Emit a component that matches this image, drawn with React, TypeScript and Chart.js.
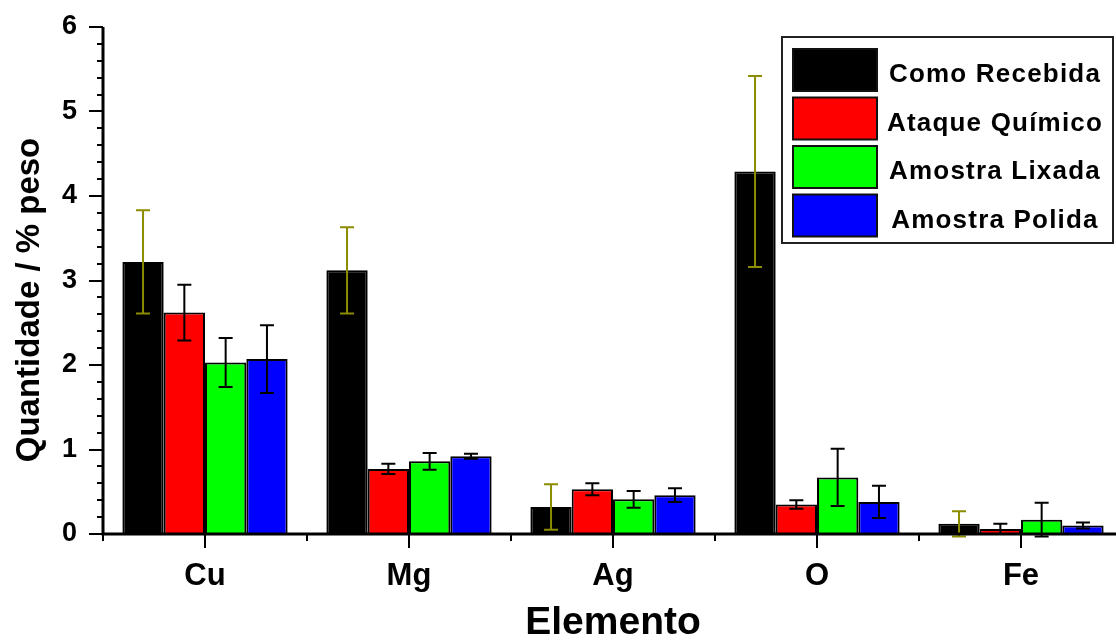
import React, { useEffect, useRef } from "react";
import { Chart, registerables } from "chart.js";

Chart.register(...registerables);

// Element composition (% weight) per surface condition
const elementos = ["Cu", "Mg", "Ag", "O", "Fe"];

const comoRecebida = [3.22, 3.12, 0.32, 4.29, 0.12];
const comoRecebidaErro = [0.61, 0.51, 0.27, 1.13, 0.15];

const ataqueQuimico = [2.62, 0.77, 0.53, 0.35, 0.06];
const ataqueQuimicoErro = [0.33, 0.06, 0.07, 0.05, 0.06];

const amostraLixada = [2.03, 0.86, 0.41, 0.67, 0.17];
const amostraLixadaErro = [0.29, 0.10, 0.10, 0.34, 0.20];

const amostraPolida = [2.07, 0.92, 0.46, 0.38, 0.10];
const amostraPolidaErro = [0.40, 0.03, 0.08, 0.19, 0.035];

const yTicks = [0, 1, 2, 3, 4, 5, 6];
const yTitle = "Quantidade / % peso";

const FONT = "Arial, 'Liberation Sans', sans-serif";

const series = [
  { label: "Como Recebida", data: comoRecebida, err: comoRecebidaErro, color: "#000000", errColor: "#8c8c00" },
  { label: "Ataque Químico", data: ataqueQuimico, err: ataqueQuimicoErro, color: "#ff0000", errColor: "#000000" },
  { label: "Amostra Lixada", data: amostraLixada, err: amostraLixadaErro, color: "#00ff00", errColor: "#000000" },
  { label: "Amostra Polida", data: amostraPolida, err: amostraPolidaErro, color: "#0000ff", errColor: "#000000" },
];

// Error bars drawn from each bar's value +/- its deviation
const errorBars = {
  id: "errorBars",
  afterDatasetsDraw(chart: any) {
    const { ctx } = chart;
    const yScale = chart.scales.y;
    chart.data.datasets.forEach((ds: any, i: number) => {
      const meta = chart.getDatasetMeta(i);
      meta.data.forEach((bar: any, j: number) => {
        const v = ds.data[j];
        const e = ds.errors[j];
        const x = bar.x;
        const yTop = yScale.getPixelForValue(v + e);
        const yBot = yScale.getPixelForValue(v - e);
        ctx.save();
        ctx.strokeStyle = ds.errColor;
        ctx.lineWidth = 2;
        ctx.beginPath();
        ctx.moveTo(x, yTop);
        ctx.lineTo(x, yBot);
        ctx.moveTo(x - 7, yTop);
        ctx.lineTo(x + 7, yTop);
        ctx.moveTo(x - 7, yBot);
        ctx.lineTo(x + 7, yBot);
        ctx.stroke();
        ctx.restore();
      });
    });
  },
};

// Axis lines with major/minor tick marks, plus the rotated y title
const axesFrame = {
  id: "axesFrame",
  afterDatasetsDraw(chart: any) {
    const { ctx, chartArea } = chart;
    const { left, right, top, bottom } = chartArea;
    const y = chart.scales.y;
    const x = chart.scales.x;
    ctx.save();
    ctx.strokeStyle = "#000";
    ctx.lineCap = "butt";
    // y ticks: major every 1, minor every 0.2
    ctx.lineWidth = 2;
    ctx.beginPath();
    for (let k = 0; k <= 30; k++) {
      const v = k * 0.2;
      const py = Math.round(y.getPixelForValue(v));
      const major = k % 5 === 0;
      ctx.moveTo(left - (major ? 14 : 6), py);
      ctx.lineTo(left, py);
    }
    // x major ticks at categories, minor at boundaries
    const n = elementos.length;
    const w = (right - left) / n;
    for (let k = 0; k <= n; k++) {
      const px = left + k * w;
      ctx.moveTo(px, bottom);
      ctx.lineTo(px, bottom + 7);
    }
    for (let k = 0; k < n; k++) {
      const px = x.getPixelForValue(k);
      ctx.moveTo(px, bottom);
      ctx.lineTo(px, bottom + 14);
    }
    ctx.stroke();
    // axis lines
    ctx.lineWidth = 3;
    ctx.beginPath();
    ctx.moveTo(left, top);
    ctx.lineTo(left, bottom + 1.5);
    ctx.moveTo(left - 1.5, bottom);
    ctx.lineTo(right + 2, bottom);
    ctx.stroke();

    // y axis title
    ctx.translate(30, 300);
    ctx.rotate(-Math.PI / 2);
    ctx.fillStyle = "#000";
    ctx.font = `bold 33px ${FONT}`;
    ctx.textAlign = "center";
    ctx.textBaseline = "middle";
    ctx.fillText(yTitle, 0, 0);
    ctx.restore();
  },
};

// Boxed legend in the upper right corner
const boxLegend = {
  id: "boxLegend",
  afterDraw(chart: any) {
    const { ctx } = chart;
    const bx = 782;
    const by = 37;
    const bw = 331;
    const bh = 206;
    ctx.save();
    ctx.fillStyle = "#ffffff";
    ctx.fillRect(bx, by, bw, bh);
    ctx.strokeStyle = "#222";
    ctx.lineWidth = 2;
    ctx.strokeRect(bx, by, bw, bh);
    series.forEach((s, i) => {
      const sy = 49 + i * 48.5;
      ctx.fillStyle = s.color;
      ctx.fillRect(793, sy, 84, 42);
      ctx.strokeStyle = "#111";
      ctx.lineWidth = 2;
      ctx.strokeRect(793, sy, 84, 42);
      ctx.fillStyle = "#000";
      ctx.font = `bold 26px ${FONT}`;
      (ctx as any).letterSpacing = "1.2px";
      ctx.textAlign = "center";
      ctx.textBaseline = "middle";
      ctx.fillText(s.label, 995, sy + 26);
    });
    ctx.restore();
  },
};

export default function App() {
  const ref = useRef<HTMLCanvasElement>(null);

  useEffect(() => {
    if (!ref.current) return;
    const chart = new Chart(ref.current, {
      type: "bar",
      data: {
        labels: elementos,
        datasets: series.map((s) => ({
          label: s.label,
          data: s.data,
          errors: s.err,
          errColor: s.errColor,
          backgroundColor: s.color,
          borderColor: "#000",
          borderWidth: 2,
          categoryPercentage: 0.81,
          barPercentage: 1.0,
        })) as any,
      },
      options: {
        responsive: false,
        animation: false,
        layout: { padding: { left: 0, right: 1, top: 27, bottom: 0 } },
        plugins: {
          legend: { display: false },
          tooltip: { enabled: false },
        },
        scales: {
          x: {
            offset: true,
            grid: { display: false, drawTicks: false },
            border: { display: false },
            afterFit: (s: any) => {
              s.height = 109;
            },
            ticks: {
              color: "#000",
              font: { family: FONT, size: 31, weight: "bold" },
              padding: 24,
              maxRotation: 0,
            },
            title: {
              display: true,
              text: "Elemento",
              color: "#000",
              font: { family: FONT, size: 39, weight: "bold", lineHeight: 1 },
              padding: { top: 0, bottom: 0 },
            },
          },
          y: {
            min: 0,
            max: 6,
            grid: { display: false, drawTicks: false },
            border: { display: false },
            afterFit: (s: any) => {
              s.width = 103;
              s.paddingTop = 0;
              s.paddingBottom = 0;
            },
            afterBuildTicks: (s: any) => {
              s.ticks = yTicks.map((v) => ({ value: v }));
            },
            ticks: {
              color: "#000",
              font: { family: FONT, size: 27, weight: "bold" },
              padding: 26,
            },
          },
        },
      },
      plugins: [errorBars, axesFrame, boxLegend],
    });
    return () => chart.destroy();
  }, []);

  return (
    <div
      style={{
        position: "fixed",
        left: 0,
        top: 0,
        width: 1116,
        height: 643,
        overflow: "hidden",
        background: "#fff",
      }}
    >
      <canvas ref={ref} width={1124} height={643} style={{ display: "block" }} />
    </div>
  );
}
